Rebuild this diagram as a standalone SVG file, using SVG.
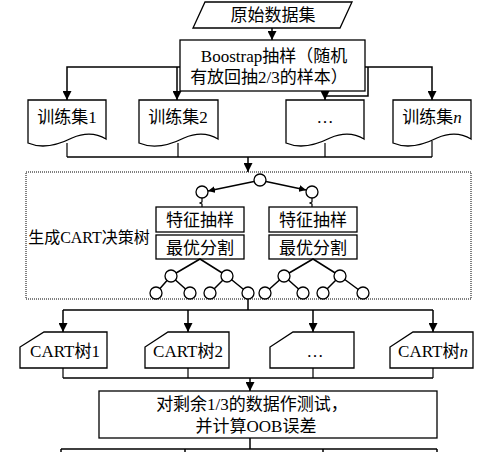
<svg xmlns="http://www.w3.org/2000/svg" width="500" height="452" viewBox="0 0 500 452">
<defs>
<style>
.shape{fill:#fff;stroke:#000;stroke-width:1.3}
.line{fill:none;stroke:#000;stroke-width:1.5}
.thin{fill:none;stroke:#000;stroke-width:1.2}
.dot{fill:none;stroke:#000;stroke-width:1;stroke-dasharray:1 1}
.node{fill:#fff;stroke:#000;stroke-width:1.3}
text{font-family:"Liberation Serif","Noto Sans CJK SC",serif;font-size:17px;fill:#000;text-anchor:middle}
</style>
<marker id="ah" markerUnits="userSpaceOnUse" markerWidth="9" markerHeight="9" viewBox="0 0 10 10" refX="10" refY="5" orient="auto">
<path d="M0,0 L10,5 L0,10 z" fill="#000"/>
</marker>
<marker id="ahs" markerUnits="userSpaceOnUse" markerWidth="7" markerHeight="7" viewBox="0 0 10 10" refX="10" refY="5" orient="auto">
<path d="M0,0 L10,5 L0,10 z" fill="#000"/>
</marker>
</defs>
<rect width="500" height="452" fill="#fff"/>

<g id="connectors">
<path class="line" d="M272,28 V40" marker-end="url(#ah)"/>
<path class="line" d="M180,67 H67 V100" marker-end="url(#ah)"/>
<path class="line" d="M177,67 V100" marker-end="url(#ah)"/>
<path class="line" d="M365,67 H432 V100" marker-end="url(#ah)"/>
<path class="line" d="M368,67 V96 H325 V100" marker-end="url(#ah)"/>
<path class="thin" d="M67,143 V157 M178,143 V157 M325,143 V157 M432,141 V157"/>
<path class="line" d="M67,157 H432"/>
<path class="line" d="M248,157 V172" marker-end="url(#ah)"/>
<path class="line" d="M248,299 V310 M63,310 H433"/>
<path class="line" d="M63,310 V332" marker-end="url(#ah)"/>
<path class="line" d="M188,310 V332" marker-end="url(#ah)"/>
<path class="line" d="M313,310 V332" marker-end="url(#ah)"/>
<path class="line" d="M433,310 V332" marker-end="url(#ah)"/>
<path class="thin" d="M63,368 V378 M188,368 V378 M313,368 V378 M433,368 V378"/>
<path class="line" d="M63,378 H433"/>
<path class="line" d="M250,378 V391" marker-end="url(#ah)"/>
<path class="line" d="M250,438 V449"/>
<path class="line" d="M61,449 H437 M61,449 V452 M185,449 V452 M323,449 V452 M437,449 V452"/>
</g>

<g id="source">
<polygon class="shape" points="205,2 352,2 340,28 193,28"/>
<text x="273" y="21">原始数据集</text>
</g>

<g id="bootstrap">
<rect class="shape" x="180" y="40" width="185" height="51"/>
<text x="274" y="62">Boostrap抽样（随机</text>
<text x="269" y="83">有放回抽2/3的样本）</text>
</g>

<g id="train1">
<path class="shape" d="M28,100 H106 V139 C96,133 86,132 72,138 C58,145 42,149 28,143 Z"/>
<text x="67" y="123">训练集1</text>
</g>
<g id="train2">
<path class="shape" d="M139,100 H218 V139 C208,133 198,132 184,138 C170,145 153,149 139,143 Z"/>
<text x="178" y="123">训练集2</text>
</g>
<g id="train3">
<path class="shape" d="M286,100 H364 V139 C354,133 344,132 330,138 C316,145 300,149 286,143 Z"/>
<text x="325" y="123">…</text>
</g>
<g id="trainn">
<path class="shape" d="M393,100 H471 V139 C461,133 451,132 437,138 C423,145 407,149 393,143 Z"/>
<text x="432" y="123">训练集<tspan font-style="italic">n</tspan></text>
</g>

<g id="cart-build">
<rect class="dot" x="26" y="172" width="445" height="127"/>
<text x="89" y="243" style="font-size:16px">生成CART决策树</text>
<path class="line" d="M254,181.5 L208,191" marker-end="url(#ahs)"/>
<path class="line" d="M266,181.5 L306,190" marker-end="url(#ahs)"/>
<path class="thin" d="M202,198 v4 l-2,1 l2,1 v3 M312,198 v4 l-2,1 l2,1 v3"/>
<circle class="node" cx="260" cy="180" r="6"/>
<circle class="node" cx="202" cy="192" r="6"/>
<circle class="node" cx="312" cy="192" r="6"/>
<rect class="shape" x="156" y="207" width="88" height="25"/>
<text x="200" y="226">特征抽样</text>
<rect class="shape" x="156" y="235" width="88" height="24"/>
<text x="200" y="254">最优分割</text>
<rect class="shape" x="269" y="207" width="88" height="25"/>
<text x="313" y="226">特征抽样</text>
<rect class="shape" x="269" y="235" width="88" height="24"/>
<text x="313" y="254">最优分割</text>
<path class="line" d="M171,276 L200,259 L227,276 M171,276 L156,293 M171,276 L190,293 M227,276 L210,293 M227,276 L248,293"/>
<path class="line" d="M284,276 L313,259 L340,276 M284,276 L265,293 M284,276 L303,293 M340,276 L323,293 M340,276 L363,293"/>
<circle class="node" cx="171" cy="276" r="6"/>
<circle class="node" cx="227" cy="276" r="6"/>
<circle class="node" cx="156" cy="293" r="6"/>
<circle class="node" cx="190" cy="293" r="6"/>
<circle class="node" cx="210" cy="293" r="6"/>
<circle class="node" cx="248" cy="293" r="6"/>
<circle class="node" cx="284" cy="276" r="6"/>
<circle class="node" cx="340" cy="276" r="6"/>
<circle class="node" cx="265" cy="293" r="6"/>
<circle class="node" cx="303" cy="293" r="6"/>
<circle class="node" cx="323" cy="293" r="6"/>
<circle class="node" cx="363" cy="293" r="6"/>
</g>

<g id="cart1">
<path class="shape" d="M44,332 H107 V368 H20 V347 Z"/>
<text x="65" y="357">CART树1</text>
</g>
<g id="cart2">
<path class="shape" d="M168,332 H229 V368 H145 V347 Z"/>
<text x="188" y="357">CART树2</text>
</g>
<g id="cart3">
<path class="shape" d="M293,332 H354 V368 H270 V347 Z"/>
<text x="315" y="357">…</text>
</g>
<g id="cartn">
<path class="shape" d="M413,332 H473 V368 H390 V347 Z"/>
<text x="433" y="357">CART树<tspan font-style="italic">n</tspan></text>
</g>

<g id="oob">
<rect class="shape" x="99" y="391" width="338" height="47"/>
<text x="252" y="410">对剩余1/3的数据作测试，</text>
<text x="256" y="432">并计算OOB误差</text>
</g>
</svg>
